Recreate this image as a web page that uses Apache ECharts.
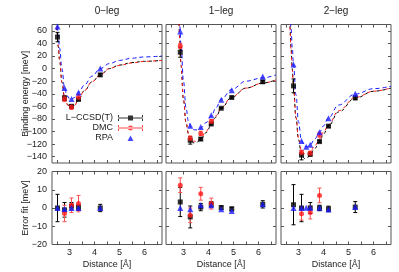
<!DOCTYPE html>
<html><head><meta charset="utf-8">
<script src="https://cdn.jsdelivr.net/npm/echarts@6/dist/echarts.min.js"></script>
<style>html,body{margin:0;padding:0;background:#fff}#c{width:399px;height:272px}</style>
</head><body><div id="c"></div>
<script>
// ---------- data ----------
const panelTitles = ['0−leg', '1−leg', '2−leg'];
const methodNames = ['L−CCSD(T)', 'DMC', 'RPA'];
const xTickValues = [2.5, 3, 3.5, 4, 4.5, 5, 5.5, 6, 6.5];
const xLabelValues = [3, 4, 5, 6];
const yTopTicks = [-140, -120, -100, -80, -60, -40, -20, 0, 20, 40, 60];
const yBotTicks = [-20, -10, 0, 10, 20];

// 0-leg
const leg0_ccsd_x = [2.52, 2.80, 3.08, 3.36, 4.23];
const leg0_ccsd_E = [50, -47, -60, -49, -10];
const leg0_ccsd_err = [7.5, 4, 2, 1.5, 2];
const leg0_ccsd_dE = [0, -1, 1, 0.3, 0];
const leg0_dmc_x = [2.80, 3.08, 3.36];
const leg0_dmc_E = [-48, -61, -45.5];
const leg0_dmc_err = [4.5, 4, 4.5];
const leg0_dmc_dE = [-3, 1.5, 2.4];
const leg0_rpa_x = [2.52, 2.80, 3.08, 3.36, 4.23];
const leg0_rpa_E = [67, -31, -48.5, -38, 0];
const leg0_rpa_dE = [0, -0.5, 0, 0, 0];
const leg0_fit_x = [2.45, 2.5, 2.55, 2.6, 2.7, 2.8, 2.9, 3.0, 3.08, 3.2, 3.36, 3.6, 3.9, 4.23, 4.6, 5.0, 5.5, 6.0, 6.7];
const leg0_fit_ccsd = [85, 58, 35, 15, -22, -46, -56, -60, -61, -58.5, -49, -35, -21, -10, 0, 5.5, 9.5, 11.5, 13];
const leg0_fit_dmc = [86, 59, 36, 15, -22, -45, -57, -61.5, -62.5, -59, -48, -35, -21, -10, 0, 5, 9, 11.5, 13];
const leg0_fit_rpa = [100, 75, 53, 33, 0, -31, -43, -48, -48.5, -46, -38, -26, -12, 0, 8, 13, 16.5, 18.5, 20];

// 1-leg
const leg1_ccsd_x = [2.87, 3.27, 3.69, 4.11, 4.51, 4.93, 6.17];
const leg1_ccsd_E = [26, -114, -112, -88, -63, -46, -21];
const leg1_ccsd_err = [8, 6, 2, 1.5, 1, 1, 2];
const leg1_ccsd_dE = [3.3, -4.9, 0.5, 2, 0.2, -0.5, 2];
const leg1_dmc_x = [2.87, 3.27, 3.69, 4.11];
const leg1_dmc_E = [36, -111, -103, -84];
const leg1_dmc_err = [4, 4, 3.5, 3];
const leg1_dmc_dE = [12.5, -4, 7.8, 2.4];
const leg1_rpa_x = [2.87, 3.27, 3.69, 4.11, 4.51, 4.93, 6.17];
const leg1_rpa_E = [59, -91, -93, -74, -49.5, -34.5, -12.7];
const leg1_rpa_dE = [0, -0.7, 1.5, 1.5, -0.7, -1.6, 2];
const leg1_fit_x = [2.8, 2.85, 2.9, 3.0, 3.1, 3.2, 3.3, 3.4, 3.5, 3.69, 3.9, 4.11, 4.3, 4.51, 4.93, 5.5, 6.17, 6.7];
const leg1_fit_ccsd = [120, 45, 5, -50, -86, -104, -114, -118, -118, -112.5, -102, -90, -77, -63, -45.5, -31, -23, -18];
const leg1_fit_dmc = [120, 46, 6, -49, -85, -103, -112, -115.5, -115.5, -111, -100, -87, -75, -62, -45, -31, -23, -18];
const leg1_fit_rpa = [100, 68, 38, -20, -62, -84, -93, -97, -97.5, -94.5, -86, -75.5, -62, -48.8, -33, -20, -14.7, -10];

// 2-leg
const leg2_ccsd_x = [2.80, 3.12, 3.47, 3.84, 4.20, 5.27];
const leg2_ccsd_E = [-27.5, -137.5, -136, -116, -91.5, -46.5];
const leg2_ccsd_err = [11, 7.5, 3, 1.5, 1.5, 3];
const leg2_ccsd_dE = [1.8, 0, 0, 0, -0.5, 0.5];
const leg2_dmc_x = [3.12, 3.47, 3.84];
const leg2_dmc_E = [-133.5, -134.5, -105];
const leg2_dmc_err = [3.5, 3.5, 4];
const leg2_dmc_dE = [-3.1, -2.5, 6.9];
const leg2_rpa_x = [2.80, 3.12, 3.31, 3.47, 3.84, 4.20, 5.27];
const leg2_rpa_E = [6.5, -115, -124, -121, -101, -79, -40];
const leg2_rpa_dE = [0, 0, 0.2, 0.2, 0.2, -0.8, 0.5];
const leg2_fit_x = [2.6, 2.65, 2.7, 2.75, 2.8, 2.9, 3.0, 3.12, 3.25, 3.35, 3.47, 3.65, 3.84, 4.0, 4.2, 4.6, 5.27, 6.0, 6.7];
const leg2_fit_ccsd = [115, 72, 33, 0, -29, -78, -113, -137.5, -143, -142, -136, -127, -116, -104, -91, -69, -47, -36, -31];
const leg2_fit_dmc = [113, 70, 31, -2, -31, -78, -110, -130.5, -135.5, -135.5, -132, -123, -112, -101, -89, -67, -46, -36, -30.5];
const leg2_fit_rpa = [140, 100, 65, 34, 6.5, -42, -85, -115, -123.5, -124.5, -121.2, -112, -101.2, -91, -78.2, -58, -40.5, -32, -28];

// ---------- build ----------
const panels = [
  {ccsd: {x: leg0_ccsd_x, E: leg0_ccsd_E, err: leg0_ccsd_err, dE: leg0_ccsd_dE},
   dmc: {x: leg0_dmc_x, E: leg0_dmc_E, err: leg0_dmc_err, dE: leg0_dmc_dE},
   rpa: {x: leg0_rpa_x, E: leg0_rpa_E, dE: leg0_rpa_dE},
   fitX: leg0_fit_x, fit: [leg0_fit_ccsd, leg0_fit_dmc, leg0_fit_rpa]},
  {ccsd: {x: leg1_ccsd_x, E: leg1_ccsd_E, err: leg1_ccsd_err, dE: leg1_ccsd_dE},
   dmc: {x: leg1_dmc_x, E: leg1_dmc_E, err: leg1_dmc_err, dE: leg1_dmc_dE},
   rpa: {x: leg1_rpa_x, E: leg1_rpa_E, dE: leg1_rpa_dE},
   fitX: leg1_fit_x, fit: [leg1_fit_ccsd, leg1_fit_dmc, leg1_fit_rpa]},
  {ccsd: {x: leg2_ccsd_x, E: leg2_ccsd_E, err: leg2_ccsd_err, dE: leg2_ccsd_dE},
   dmc: {x: leg2_dmc_x, E: leg2_dmc_E, err: leg2_dmc_err, dE: leg2_dmc_dE},
   rpa: {x: leg2_rpa_x, E: leg2_rpa_E, dE: leg2_rpa_dE},
   fitX: leg2_fit_x, fit: [leg2_fit_ccsd, leg2_fit_dmc, leg2_fit_rpa]}
];

const FONT = 'Liberation Sans, Arial, sans-serif';
const TXT = '#222';
const FRAME = '#555';
const C_BLACK = '#000000', C_RED = '#ff1a1a', C_REDBAR = '#ff5050', C_BLUE = '#1a1aff';
const lefts = [52, 166, 281];
const W = 110;
const TOP_T = 24.5, TOP_H = 138.5, BOT_T = 171.5, BOT_H = 73;
const minus = v => String(v).replace('-', '−');

const grids = [], xAxes = [], yAxes = [], series = [];
for (let row = 0; row < 2; row++) {
  for (let col = 0; col < 3; col++) {
    const g = row * 3 + col;
    grids.push({left: lefts[col], width: W, top: row ? BOT_T : TOP_T, height: row ? BOT_H : TOP_H,
      show: true, borderColor: FRAME, borderWidth: 1, backgroundColor: 'transparent'});
    const tickCommon = {inside: true, length: 3, lineStyle: {color: FRAME, width: 1}};
    const showX = row === 1;
    xAxes.push({type: 'value', gridIndex: g, min: 2.3, max: 6.7, position: 'bottom',
      axisLine: {show: false, onZero: false}, splitLine: {show: false},
      axisTick: Object.assign({customValues: xTickValues}, tickCommon),
      axisLabel: {show: showX, customValues: xLabelValues, margin: 4, fontSize: 9, color: TXT, fontFamily: FONT, formatter: v => String(v)},
      name: showX ? 'Distance [Å]' : '', nameLocation: 'middle', nameGap: 16, nameMoveOverlap: false,
      nameTextStyle: {fontSize: 9, color: TXT, fontFamily: FONT}});
    xAxes.push({type: 'value', gridIndex: g, min: 2.3, max: 6.7, position: 'top',
      axisLine: {show: false, onZero: false}, splitLine: {show: false},
      axisTick: Object.assign({customValues: xTickValues}, tickCommon),
      axisLabel: {show: false}});
    const yr = row ? {min: -20, max: 20, ticks: yBotTicks, name: 'Error fit [meV]'}
                   : {min: -150, max: 70, ticks: yTopTicks, name: 'Binding energy [meV]'};
    const showY = col === 0;
    yAxes.push({type: 'value', gridIndex: g, min: yr.min, max: yr.max, position: 'left',
      axisLine: {show: false, onZero: false}, splitLine: {show: false},
      axisTick: Object.assign({customValues: yr.ticks}, tickCommon),
      axisLabel: {show: showY, customValues: yr.ticks, margin: 5, fontSize: 9, color: TXT, fontFamily: FONT, formatter: minus},
      name: showY ? yr.name : '', nameLocation: 'middle', nameGap: 22, nameMoveOverlap: false,
      nameTextStyle: {fontSize: 9, color: TXT, fontFamily: FONT}});
    yAxes.push({type: 'value', gridIndex: g, min: yr.min, max: yr.max, position: 'right',
      axisLine: {show: false, onZero: false}, splitLine: {show: false},
      axisTick: Object.assign({customValues: yr.ticks}, tickCommon),
      axisLabel: {show: false}});
  }
}

function errBar(color) {
  return function (params, api) {
    const x = api.value(0), y = api.value(1), e = api.value(2);
    const hi = api.coord([x, y + e]), lo = api.coord([x, y - e]);
    const w = 2;
    const style = {stroke: color, lineWidth: 1};
    return {type: 'group', children: [
      {type: 'line', shape: {x1: hi[0], y1: hi[1], x2: lo[0], y2: lo[1]}, style: style},
      {type: 'line', shape: {x1: hi[0] - w, y1: hi[1], x2: hi[0] + w, y2: hi[1]}, style: style},
      {type: 'line', shape: {x1: lo[0] - w, y1: lo[1], x2: lo[0] + w, y2: lo[1]}, style: style}
    ]};
  };
}

const fitColors = [C_BLACK, C_RED, C_BLUE];
const fitDash = [[3, 3], [3, 3], [4, 3]];
panels.forEach((p, col) => {
  const gT = col, gB = 3 + col;
  p.fit.forEach((vals, m) => {
    series.push({type: 'line', xAxisIndex: 2 * gT, yAxisIndex: 2 * gT, silent: true,
      data: p.fitX.map((x, i) => [x, vals[i]]), showSymbol: false, symbol: 'none',
      smooth: 0.4, smoothMonotone: 'x', clip: true,
      lineStyle: {color: fitColors[m], width: 1, type: fitDash[m]}, z: 2});
  });
  [[gT, 'E'], [gB, 'dE']].forEach(([g, key]) => {
    series.push({type: 'custom', xAxisIndex: 2 * g, yAxisIndex: 2 * g, clip: true, silent: true,
      renderItem: errBar(C_BLACK), encode: {x: 0, y: 1},
      data: p.ccsd.x.map((x, i) => [x, p.ccsd[key][i], p.ccsd.err[i]]), z: 3});
    series.push({type: 'custom', xAxisIndex: 2 * g, yAxisIndex: 2 * g, clip: true, silent: true,
      renderItem: errBar(C_REDBAR), encode: {x: 0, y: 1},
      data: p.dmc.x.map((x, i) => [x, p.dmc[key][i], p.dmc.err[i]]), z: 3});
    series.push({type: 'scatter', name: methodNames[0], xAxisIndex: 2 * g, yAxisIndex: 2 * g, silent: true,
      symbol: 'rect', symbolSize: 5, itemStyle: {color: C_BLACK},
      data: p.ccsd.x.map((x, i) => [x, p.ccsd[key][i]]), z: 4});
    series.push({type: 'scatter', name: methodNames[1], xAxisIndex: 2 * g, yAxisIndex: 2 * g, silent: true,
      symbol: 'circle', symbolSize: 5, itemStyle: {color: C_RED},
      data: p.dmc.x.map((x, i) => [x, p.dmc[key][i]]), z: 5});
    series.push({type: 'scatter', name: methodNames[2], xAxisIndex: 2 * g, yAxisIndex: 2 * g, silent: true,
      symbol: 'triangle', symbolSize: 6, itemStyle: {color: C_BLUE},
      data: p.rpa.x.map((x, i) => [x, p.rpa[key][i]]), z: 6});
  });
});

const barIcon = 'path://M0,3.5h25v1h-25z M10,1.5h5v5h-5z M0,1v6h1v-6z M24,1v6h1v-6z';
const dotIcon = 'path://M0,3.5h25v1h-25z M0,1v6h1v-6z M24,1v6h1v-6z M12.5,1.5a2.5,2.5 0 1,0 0.001,0z';
const triIcon = 'path://M0,0h0.01v0.01h-0.01z M24.99,7.99h0.01v0.01h-0.01z M9.5,7L12.5,1.5L15.5,7z';
const legendBase = {orient: 'vertical', align: 'right', itemWidth: 25, itemHeight: 8, padding: 0,
  right: 256, selectedMode: false,
  textStyle: {fontSize: 9, color: TXT, fontFamily: FONT}};
const legends = [
  Object.assign({}, legendBase, {top: 113.5, data: [{name: methodNames[0], icon: barIcon}], itemStyle: {color: C_BLACK}}),
  Object.assign({}, legendBase, {top: 123.5, data: [{name: methodNames[1], icon: dotIcon}], itemStyle: {color: C_RED}}),
  Object.assign({}, legendBase, {top: 133.5, data: [{name: methodNames[2], icon: triIcon}], itemStyle: {color: C_BLUE}})
];

const titles = panelTitles.map((t, i) => ({text: t, left: lefts[i] + W / 2, top: 6, textAlign: 'center', padding: 0,
  textStyle: {fontSize: 10, fontWeight: 'normal', color: TXT, fontFamily: FONT}}));

const chart = echarts.init(document.getElementById('c'), null, {renderer: 'canvas'});
chart.setOption({
  animation: false,
  backgroundColor: '#fff',
  title: titles,
  legend: legends,
  grid: grids,
  xAxis: xAxes,
  yAxis: yAxes,
  series: series
});
</script></body></html>
